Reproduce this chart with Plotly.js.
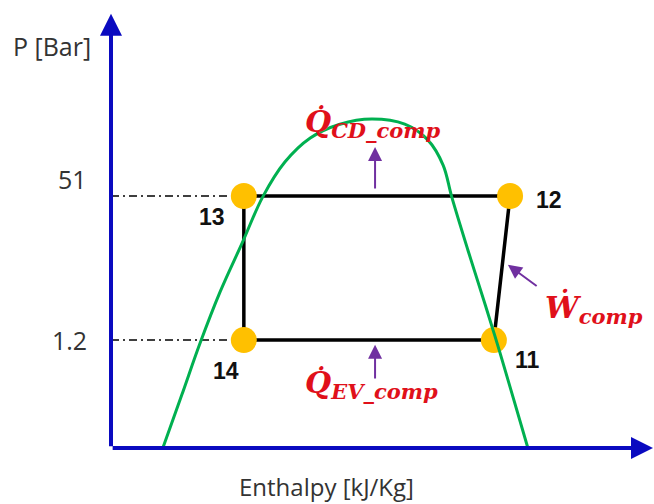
<!DOCTYPE html>
<html>
<head>
<meta charset="utf-8">
<script src="https://cdn.plot.ly/plotly-3.0.1.min.js"></script>
<style>html,body{margin:0;padding:0;background:#fff;}#chart{width:654px;height:504px;}</style>
</head>
<body>
<div id="chart"></div>
<script>
// Cycle state points (schematic units: enthalpy 0-100, pressure level 0-100)
const stateLabels = ['11', '12', '13', '14'];
const stateEnthalpy = [70.9, 73.9, 24.6, 24.6];
const statePressure = [25.1, 58.6, 58.6, 25.1];

// Closed cycle path 14 -> 13 -> 12 -> 11 -> 14
const cycleOrder = [3, 2, 1, 0, 3];

// Pressure tick levels and labels
const pressureTickVals = [58.6, 25.1];
const pressureTickText = ['51', '1.2'];

// Saturation dome
const domeEnthalpy = [9.6, 13.1, 16.5, 20.2, 24.3, 28.1, 32.2, 36.9, 42.4, 48.3, 54.4, 58.7, 61.5, 63.1, 66.1, 69.3, 72.0, 74.6, 77.2];
const domePressure = [0, 12.3, 24.4, 36.3, 47.7, 58.4, 66.5, 72.1, 75.3, 76.5, 75.3, 71.6, 65.8, 58.4, 46.0, 33.3, 22.3, 11.2, 0];

// Heat / work annotations
const flowLabels = ['<b><i>Q̇<sub>CD_comp</sub></i></b>', '<b><i>Q̇<sub>EV_comp</sub></i></b>', '<b><i>Ẇ<sub>comp</sub></i></b>'];

// Axis titles
const xTitle = 'Enthalpy [kJ/Kg]';
const yTitle = 'P [Bar]';

const AXIS_BLUE = '#0A0AC0';
const GREEN = '#00B050';
const ORANGE = '#FFC000';
const PURPLE = '#7030A0';
const RED = '#E0101A';
const SANS = 'Open Sans, sans-serif';

const traces = [];
// dash-dot guides to the pressure axis
pressureTickVals.forEach((v) => {
  traces.push({
    x: [0, stateEnthalpy[2]], y: [v, v], mode: 'lines',
    line: {color: '#000', width: 1.5, dash: '8px,4px,2px,4px'},
    hoverinfo: 'skip'
  });
});
// cycle
traces.push({
  x: cycleOrder.map(i => stateEnthalpy[i]),
  y: cycleOrder.map(i => statePressure[i]),
  mode: 'lines', line: {color: '#000', width: 3.5}, hoverinfo: 'skip'
});
// state markers
traces.push({
  x: stateEnthalpy, y: statePressure, mode: 'markers',
  marker: {color: ORANGE, size: 26, line: {width: 0}}, hoverinfo: 'skip'
});
// dome
traces.push({
  x: domeEnthalpy, y: domePressure, mode: 'lines',
  line: {color: GREEN, width: 3, shape: 'spline', smoothing: 1}, hoverinfo: 'skip'
});

const labelShift = [[34, -20], [39, -4], [-32, -21], [-18, -31]];
const annotations = [];
stateLabels.forEach((t, i) => {
  annotations.push({
    x: stateEnthalpy[i], y: statePressure[i], xref: 'x', yref: 'y', text: '<b>' + t + '</b>',
    showarrow: false, xshift: labelShift[i][0], yshift: labelShift[i][1],
    font: {family: 'Liberation Sans, Arial, sans-serif', size: 23, color: '#111'}
  });
});
// tick labels
const tickShift = [17, 0];
pressureTickVals.forEach((v, i) => {
  annotations.push({
    x: 0, y: v, xref: 'x', yref: 'y', text: pressureTickText[i], showarrow: false,
    xanchor: 'right', yanchor: 'middle', xshift: -22, yshift: tickShift[i],
    font: {family: SANS, size: 25, color: '#333'}
  });
});
// axis titles (placed in paper coordinates)
annotations.push({x: (52 - 111) / 540, y: (448 - 46) / 430, xref: 'paper', yref: 'paper', text: yTitle,
  showarrow: false, xanchor: 'center', yanchor: 'middle',
  font: {family: SANS, size: 25, color: '#333'}});
annotations.push({x: (326 - 111) / 540, y: (448 - 487) / 430, xref: 'paper', yref: 'paper', text: xTitle,
  showarrow: false, xanchor: 'center', yanchor: 'middle',
  font: {family: SANS, size: 24, color: '#333'}});
// axes with arrowheads (paper coords, pixel tails)
annotations.push({x: 0, y: 1.01, xref: 'paper', yref: 'paper', axref: 'pixel', ayref: 'pixel', ax: 0, ay: 434,
  showarrow: true, arrowhead: 2, arrowsize: 1.1, arrowwidth: 4, arrowcolor: AXIS_BLUE, text: ''});
annotations.push({x: 1.004, y: 0, xref: 'paper', yref: 'paper', axref: 'pixel', ayref: 'pixel', ax: -542, ay: 0,
  showarrow: true, arrowhead: 2, arrowsize: 1.1, arrowwidth: 4, arrowcolor: AXIS_BLUE, text: ''});
// purple arrows
const arrowHead = [[48.9, 70.0], [48.9, 24.0], [73.5, 42.6]];
const arrowTail = [[48.9, 60.0], [48.9, 15.8], [79.1, 37.4]];
arrowHead.forEach((h, i) => {
  annotations.push({x: h[0], y: h[1], ax: arrowTail[i][0], ay: arrowTail[i][1],
    xref: 'x', yref: 'y', axref: 'x', ayref: 'y', showarrow: true, text: '',
    arrowhead: 2, arrowsize: 1.4, arrowwidth: 2, arrowcolor: PURPLE});
});
// flow labels
const flowPos = [[35.6, 75.5], [35.6, 14.8], [80.0, 32.5]];
flowLabels.forEach((t, i) => {
  annotations.push({x: flowPos[i][0], y: flowPos[i][1], xref: 'x', yref: 'y', text: t, showarrow: false,
    xanchor: 'left', yanchor: 'middle',
    font: {family: 'DejaVu Serif, serif', size: 30, color: RED}});
});

const layout = {
  width: 654, height: 504,
  margin: {l: 111, r: 3, t: 18, b: 56},
  paper_bgcolor: '#fff', plot_bgcolor: '#fff',
  showlegend: false, hovermode: false,
  xaxis: {range: [0, 100], showgrid: false, zeroline: false, showticklabels: false, ticks: ''},
  yaxis: {range: [0, 100], showgrid: false, zeroline: false, showticklabels: false, ticks: ''},
  annotations: annotations
};

Plotly.newPlot('chart', traces, layout, {staticPlot: true, displayModeBar: false});
</script>
</body>
</html>
